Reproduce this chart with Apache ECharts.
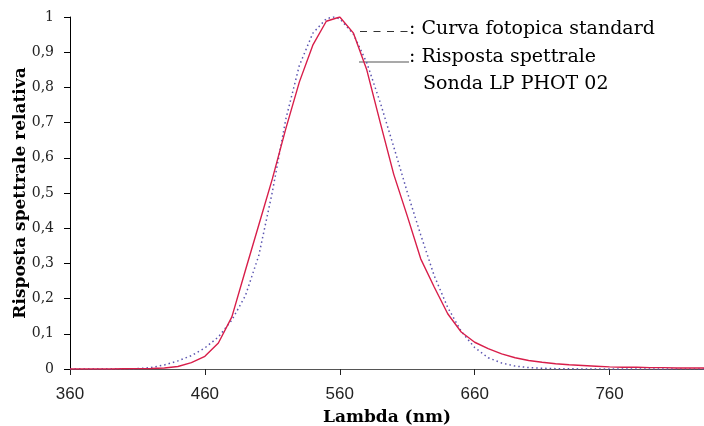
<!DOCTYPE html>
<html>
<head>
<meta charset="utf-8">
<style>
html,body{margin:0;padding:0;background:#fff;}
#chart{width:704px;height:426px;}
</style>
<script src="https://cdn.jsdelivr.net/npm/echarts@6/dist/echarts.min.js"></script>
</head>
<body>
<div id="chart"></div>
<script>
// Wavelengths (nm)
const photoNm = [360,370,380,390,400,410,420,430,440,450,460,470,480,490,500,510,520,530,540,550,555,560,570,580,590,600,610,620,630,640,650,660,670,680,690,700,710,720,730,740,750,760,770,780,790,800,810,820,830];
// Curva fotopica standard (dotted)
const photoV = [0.0000039,0.000012,0.000039,0.00012,0.000396,0.00121,0.004,0.0116,0.023,0.038,0.06,0.091,0.139,0.208,0.323,0.503,0.71,0.862,0.954,0.995,1.0,0.995,0.952,0.87,0.757,0.631,0.503,0.381,0.265,0.175,0.107,0.061,0.032,0.017,0.0082,0.0041,0.0021,0.00105,0.00052,0.00025,0.00012,0.00006,0.00003,0.000015,0.0000075,0.0000037,0.0000019,0.0000009,0.0000005];
// Risposta spettrale Sonda LP PHOT 02 (solid)
const probeNm = [360,370,380,390,400,410,420,430,440,450,460,470,480,490,500,510,520,530,540,550,560,570,580,590,600,610,620,630,640,650,660,670,680,690,700,710,720,730,740,750,760,770,780,790,800,810,820,830];
const probeV = [0,0,0,0,0.0005,0.001,0.0015,0.003,0.007,0.018,0.036,0.074,0.148,0.28,0.41,0.54,0.683,0.815,0.92,0.988,1.0,0.955,0.85,0.70,0.553,0.435,0.313,0.233,0.157,0.105,0.076,0.058,0.043,0.032,0.024,0.019,0.015,0.012,0.010,0.008,0.006,0.005,0.005,0.004,0.004,0.003,0.003,0.003];
// Tick labels
const xTicks = [360,460,560,660,760];
const legendLabels = ['Curva fotopica standard', 'Risposta spettrale', 'Sonda LP PHOT 02'];

const photoData = photoNm.map((x,i)=>[x, photoV[i]]);
const probeData = probeNm.map((x,i)=>[x, probeV[i]]);

const chart = echarts.init(document.getElementById('chart'), null, {renderer:'canvas'});
chart.setOption({
  animation: false,
  backgroundColor: '#fff',
  grid: {left: 70, right: 0, top: 17, bottom: 57, containLabel: false, outerBoundsMode: 'none'},
  xAxis: [{
    type: 'value', min: 360, max: 830,
    name: 'Lambda (nm)', nameLocation: 'middle', nameGap: 40, nameMoveOverlap: false,
    nameTextStyle: {fontFamily: 'DejaVu Serif', fontWeight: 'bold', fontSize: 17, color: '#000'},
    axisLine: {show: true, onZero: false, lineStyle: {color: '#444', width: 1}},
    axisTick: {show: true, length: 6, customValues: xTicks, lineStyle: {color: '#222'}},
    axisLabel: {customValues: xTicks, margin: 17, fontFamily: 'Liberation Sans', fontSize: 17, color: '#222'},
    splitLine: {show: false}
  },{
    type: 'value', position: 'top', min: 360, max: 830,
    axisLine: {show: true, lineStyle: {color: '#555', width: 1}},
    axisTick: {show: false}, axisLabel: {show: false}, splitLine: {show: false}
  }],
  yAxis: {
    type: 'value', min: 0, max: 1, interval: 0.1,
    name: 'Risposta spettrale relativa', nameLocation: 'middle', nameGap: 41, nameMoveOverlap: false,
    nameTextStyle: {fontFamily: 'DejaVu Serif', fontWeight: 'bold', fontSize: 17, color: '#000'},
    axisLine: {show: true, lineStyle: {color: '#000', width: 1}},
    axisTick: {show: true, length: 6, lineStyle: {color: '#000'}},
    axisLabel: {
      margin: 16, fontFamily: 'DejaVu Serif', fontSize: 14, color: '#222',
      formatter: v => (v === 0 || v === 1) ? String(v) : v.toFixed(1).replace('.', ',')
    },
    splitLine: {show: false}
  },
  series: [{
    name: legendLabels[0], type: 'line', data: photoData, showSymbol: false, symbol: 'none',
    lineStyle: {color: '#5b55b0', width: 1.5, type: [1.5, 3]}, z: 2
  },{
    name: legendLabels[1], type: 'line', data: probeData, showSymbol: false, symbol: 'none',
    lineStyle: {color: '#d81e4a', width: 1.4}, z: 3
  }],
  graphic: [
    {type: 'line', shape: {x1: 360, y1: 31.5, x2: 408, y2: 31.5}, style: {stroke: '#333', lineWidth: 1.2, lineDash: [7, 6.5]}},
    {type: 'text', x: 409, y: 29.5, style: {text: ': ' + legendLabels[0], font: '19px "DejaVu Serif"', fill: '#000', verticalAlign: 'middle', align: 'left'}},
    {type: 'line', shape: {x1: 359, y1: 62, x2: 409, y2: 62}, style: {stroke: '#555', lineWidth: 1.2}},
    {type: 'text', x: 409, y: 56.7, style: {text: ': ' + legendLabels[1], font: '19px "DejaVu Serif"', fill: '#000', verticalAlign: 'middle', align: 'left'}},
    {type: 'text', x: 423, y: 84, style: {text: legendLabels[2], font: '19px "DejaVu Serif"', fill: '#000', verticalAlign: 'middle', align: 'left'}}
  ]
});
</script>
</body>
</html>
